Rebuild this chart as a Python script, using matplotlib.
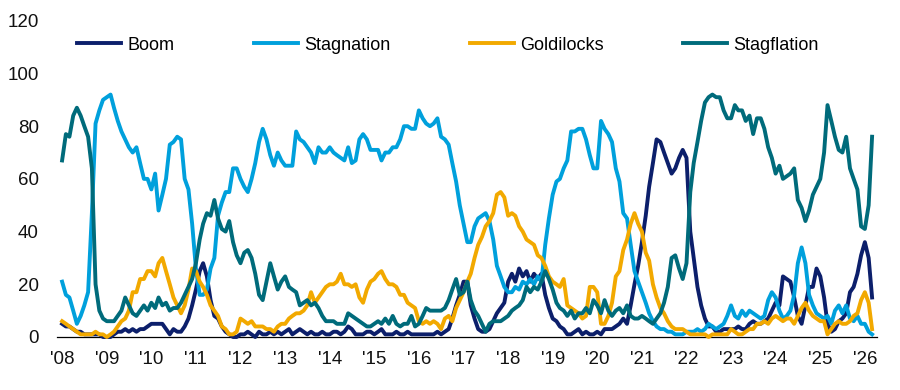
import pandas as pd
import matplotlib.pyplot as plt

plt.rcParams["font.family"] = ["Liberation Sans", "DejaVu Sans"]

# monthly regime probabilities (%), Jan 2008 - Mar 2026
start = "2008-01-01"
years = list(range(2008, 2027))
year_labels = ["'" + str(y)[2:] for y in years]
y_ticks = [0, 20, 40, 60, 80, 100, 120]

boom = [
    5, 4, 4, 3, 2, 2, 1, 1, 1, 1, 1, 0,
    0, 0, 1, 2, 2, 3, 2, 3, 2, 3, 3, 4,
    5, 5, 5, 5, 3, 1, 3, 2, 2, 4, 7, 12,
    18, 25, 28, 23, 14, 8, 7, 4, 2, 1, 0, 0,
    1, 1, 2, 1, 0, 2, 1, 1, 2, 1, 2, 1,
    2, 3, 1, 2, 3, 2, 1, 2, 1, 1, 2, 1,
    1, 2, 2, 1, 2, 4, 3, 1, 1, 1, 2, 2,
    1, 2, 3, 1, 1, 1, 2, 1, 1, 2, 1, 1,
    1, 1, 1, 1, 1, 2, 1, 2, 3, 7, 12, 16,
    21, 21, 12, 7, 3, 2, 2, 3, 6, 9, 11, 13,
    21, 24, 21, 26, 23, 25, 21, 24, 22, 24, 16, 11,
    7, 6, 4, 3, 1, 1, 2, 3, 1, 2, 1, 1,
    2, 1, 3, 3, 3, 4, 5, 7, 5, 12, 20, 27,
    36, 46, 57, 66, 75, 74, 70, 66, 62, 64, 68, 71,
    68, 40, 30, 19, 12, 7, 4, 4, 2, 2, 3, 3,
    3, 3, 4, 3, 3, 5, 6, 5, 5, 6, 7, 10,
    13, 12, 23, 22, 21, 15, 8, 5, 12, 19, 19, 26,
    23, 15, 5, 2, 3, 6, 7, 9, 17, 19, 24, 31,
    36, 30, 15,
]

stagnation = [
    21, 16, 15, 10, 5, 8, 12, 17, 47, 81, 86, 90,
    91, 92, 87, 82, 78, 75, 72, 70, 72, 66, 60, 60,
    56, 62, 48, 54, 60, 73, 74, 76, 75, 60, 56, 43,
    26, 16, 16, 18, 26, 30, 46, 51, 55, 55, 64, 64,
    60, 57, 55, 60, 66, 74, 79, 75, 69, 65, 70, 67,
    65, 65, 65, 78, 75, 74, 72, 70, 66, 72, 70, 70,
    72, 70, 69, 68, 67, 72, 66, 67, 75, 77, 75, 71,
    71, 71, 67, 70, 70, 72, 72, 75, 80, 80, 79, 79,
    86, 83, 81, 80, 81, 83, 76, 75, 73, 66, 59, 50,
    43, 36, 36, 42, 45, 46, 47, 44, 37, 27, 23, 19,
    17, 17, 19, 18, 21, 20, 22, 20, 23, 21, 35, 45,
    54, 59, 60, 64, 67, 78, 78, 79, 79, 75, 69, 64,
    64, 82, 79, 77, 74, 64, 59, 47, 45, 35, 25, 21,
    17, 13, 9, 6, 4, 3, 3, 2, 2, 1, 1, 1,
    2, 2, 2, 3, 2, 3, 5, 4, 3, 4, 5, 8,
    12, 8, 7, 10, 8, 10, 9, 8, 7, 8, 14, 17,
    15, 10, 7, 8, 10, 16, 28, 34, 28, 16, 12, 9,
    8, 7, 8, 5, 10, 12, 9, 12, 7, 6, 8, 5,
    5, 2, 1,
]

goldilocks = [
    6, 5, 4, 3, 2, 1, 1, 1, 1, 2, 1, 1,
    0, 1, 2, 4, 6, 7, 10, 17, 17, 22, 22, 25,
    25, 23, 28, 30, 25, 20, 15, 12, 9, 12, 18, 26,
    25, 21, 19, 16, 12, 10, 8, 4, 3, 1, 1, 2,
    7, 6, 5, 6, 4, 4, 4, 3, 3, 2, 4, 5,
    5, 7, 8, 9, 9, 10, 12, 17, 13, 15, 17, 19,
    20, 20, 21, 24, 20, 20, 19, 20, 15, 13, 18, 21,
    22, 24, 25, 22, 20, 20, 19, 16, 16, 13, 12, 11,
    6, 5, 6, 5, 6, 5, 3, 7, 8, 6, 11, 14,
    17, 21, 24, 30, 35, 38, 42, 44, 47, 54, 55, 53,
    46, 47, 46, 42, 40, 37, 36, 35, 31, 30, 27, 23,
    21, 20, 19, 22, 12, 11, 10, 9, 7, 8, 19, 19,
    17, 5, 5, 8, 13, 23, 25, 33, 37, 43, 47, 43,
    40, 32, 29, 20, 15, 11, 9, 6, 4, 3, 3, 3,
    2, 1, 1, 1, 1, 1, 0, 1, 1, 1, 1, 1,
    3, 2, 1, 1, 2, 3, 3, 5, 5, 6, 5, 7,
    8, 7, 6, 7, 7, 5, 8, 11, 13, 10, 8, 7,
    6, 6, 1, 3, 5, 6, 5, 5, 6, 8, 9, 14,
    17, 13, 3,
]

stagflation = [
    67, 77, 76, 84, 87, 84, 80, 76, 64, 20, 10, 7,
    6, 6, 6, 8, 10, 15, 12, 9, 8, 10, 12, 10,
    13, 11, 15, 12, 13, 10, 11, 11, 13, 16, 19, 22,
    28, 37, 43, 47, 46, 52, 45, 41, 40, 44, 36, 31,
    28, 32, 33, 30, 24, 16, 14, 21, 28, 23, 18, 21,
    23, 19, 18, 17, 12, 13, 14, 12, 13, 11, 8, 6,
    6, 6, 5, 5, 5, 9, 8, 7, 6, 5, 4, 4,
    5, 6, 5, 7, 5, 8, 5, 4, 5, 5, 8, 4,
    5, 8, 11, 10, 10, 10, 10, 11, 14, 18, 22, 16,
    17, 21, 14, 10, 8, 5, 2, 5, 6, 6, 6, 7,
    8, 10, 11, 12, 14, 19, 17, 19, 18, 21, 25, 22,
    18, 13, 11, 10, 8, 10, 7, 9, 9, 11, 9, 14,
    12, 9, 14, 10, 8, 10, 11, 9, 12, 8, 7, 7,
    8, 7, 6, 5, 7, 9, 13, 19, 30, 31, 26, 22,
    28, 55, 66, 74, 82, 89, 91, 92, 91, 91, 86, 83,
    83, 88, 86, 86, 82, 84, 77, 83, 83, 79, 72, 68,
    62, 65, 60, 61, 62, 64, 52, 49, 44, 48, 54, 57,
    60, 70, 88, 82, 76, 71, 70, 76, 64, 60, 56, 42,
    41, 50, 76,
]

months = pd.date_range(start, periods=len(boom), freq="MS")

series = [
    ("Boom", boom, "#0c1f6b"),
    ("Stagnation", stagnation, "#00a0dc"),
    ("Goldilocks", goldilocks, "#f2a900"),
    ("Stagflation", stagflation, "#006b7b"),
]

fig = plt.figure(figsize=(9, 3.9), dpi=100)
ax = fig.add_axes([0.0633, 0.1359, 0.9111, 0.8108])

for name, vals, color in series:
    ax.plot(months, vals, color=color, lw=2.8, label=name, clip_on=False, zorder=3)

ax.set_ylim(0, 120)
ax.set_xlim(pd.Timestamp("2007-11-20"), pd.Timestamp("2026-04-10"))
ax.set_yticks(y_ticks)
ax.set_xticks(pd.to_datetime([f"{y}-01-01" for y in years]))
ax.set_xticklabels(year_labels)
ax.tick_params(axis="both", length=0, labelsize=13.5, colors="#111111")
ax.tick_params(axis="y", pad=13)
ax.tick_params(axis="x", pad=10)

for side in ["top", "right", "left"]:
    ax.spines[side].set_visible(False)
ax.spines["bottom"].set_color("black")
ax.spines["bottom"].set_linewidth(0.9)

ax.legend(ncol=4, loc="center left", bbox_to_anchor=(77 / 900, 1 - 45 / 390),
          bbox_transform=fig.transFigure, frameon=False, fontsize=13,
          handlelength=2.45, handletextpad=0.33, columnspacing=4.4,
          borderpad=0, borderaxespad=0)

fig.savefig("out.png", dpi=100)
